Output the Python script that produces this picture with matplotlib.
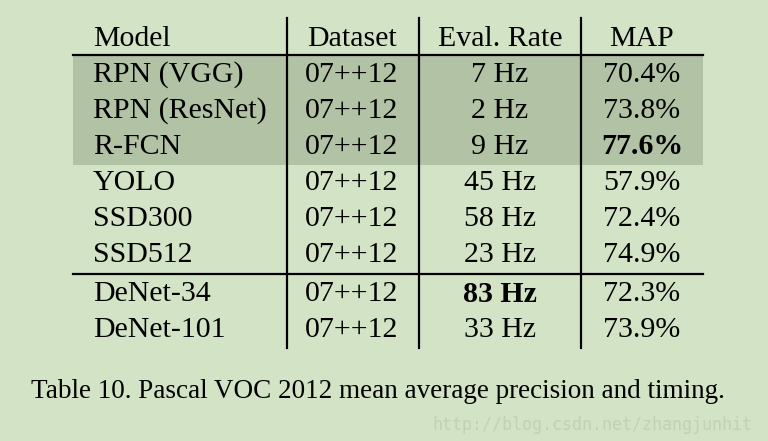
import matplotlib.pyplot as plt
from matplotlib.patches import Rectangle

# Table contents
models = ["RPN (VGG)", "RPN (ResNet)", "R-FCN", "YOLO", "SSD300", "SSD512",
          "DeNet-34", "DeNet-101"]
datasets = ["07++12"] * 8
rates = [7, 2, 9, 45, 58, 23, 83, 33]
maps = [70.4, 73.8, 77.6, 57.9, 72.4, 74.9, 72.3, 73.9]
headers = ["Model", "Dataset", "Eval. Rate", "MAP"]
best_rate = max(rates)
best_map = max(maps)
shaded_rows = 3
group_break = 6
caption = "Table 10. Pascal VOC 2012 mean average precision and timing."
watermark = "http://blog.csdn.net/zhangjunhit"

bg = "#d3e3c6"
shade = "#b2c2a5"

fig = plt.figure(figsize=(7.68, 4.41), dpi=100)
fig.patch.set_facecolor(bg)
ax = fig.add_axes([0, 0, 1, 1])
ax.set_xlim(0, 768)
ax.set_ylim(441, 0)
ax.axis("off")

# layout (pixels)
left, right = 73, 703
col_sep = [287, 419, 581]
col_x = [93, 352, 500, 642]
header_y = 39
row0_y = 75
row_h = 36
fs = 21.5
font = "Liberation Serif"

def row_y(i):
    y = row0_y + i * row_h
    if i >= group_break:
        y += 3
    return y

# shaded block
ax.add_patch(Rectangle((left, 56), right - left, 165 - 56,
                       facecolor=shade, edgecolor="none", zorder=0))

# rules
ax.plot([left, right], [55, 55], color="black", lw=1.6)
ax.plot([left, right], [274, 274], color="black", lw=1.6)
for xs in col_sep:
    ax.plot([xs, xs], [18, 348], color="black", lw=1.6)

# header
for j, h in enumerate(headers):
    ax.text(col_x[j], header_y, h, fontsize=fs, family=font,
            ha="left" if j == 0 else "center", va="center")

# rows
for i in range(len(models)):
    y = row_y(i)
    ax.text(col_x[0], y, models[i], fontsize=fs, family=font, ha="left", va="center")
    ax.text(col_x[1], y, datasets[i], fontsize=fs, family=font, ha="center", va="center")
    ax.text(col_x[2], y, f"{rates[i]} Hz", fontsize=fs, family=font, ha="center",
            va="center", fontweight="bold" if rates[i] == best_rate else "normal")
    ax.text(col_x[3], y, f"{maps[i]:.1f}%", fontsize=fs, family=font, ha="center",
            va="center", fontweight="bold" if maps[i] == best_map else "normal")

ax.text(31, 392, caption, fontsize=19.5, family=font, ha="left", va="center")
ax.text(752, 425, watermark, fontsize=12, family="DejaVu Sans Mono",
        color="#c2d1b6", ha="right", va="center")

fig.savefig("out.png", dpi=100, facecolor=bg)
